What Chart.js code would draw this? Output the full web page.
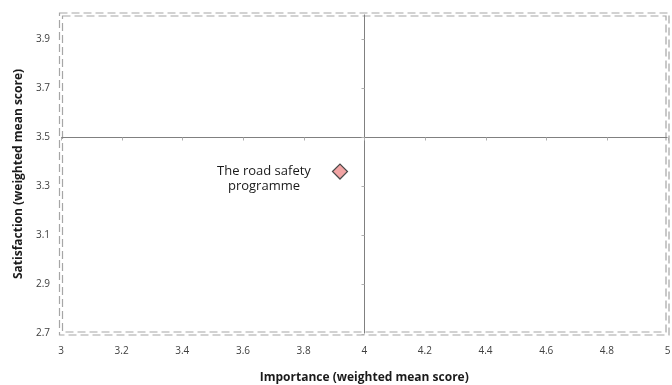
<!DOCTYPE html>
<html>
<head>
<meta charset="utf-8">
<script src="https://cdn.jsdelivr.net/npm/chart.js@4.4.1/dist/chart.umd.min.js"></script>
<style>
  html, body { margin: 0; padding: 0; background: #ffffff; }
  #wrap { width: 672px; height: 385px; position: relative; }
</style>
</head>
<body>
<div id="wrap"><canvas id="chart" width="672" height="385"></canvas></div>
<script>
// Service item plotted by importance (x) against satisfaction (y)
const itemNames = ["The road safety programme"];
const itemLabelLines = [["The road safety", "programme"]];
const importance = [3.92];
const satisfaction = [3.36];

// Axis ranges and tick labels
const xTicks = [3, 3.2, 3.4, 3.6, 3.8, 4, 4.2, 4.4, 4.6, 4.8, 5];
const yTicks = [2.7, 2.9, 3.1, 3.3, 3.5, 3.7, 3.9];
const xRange = [3, 5];
const yRange = [2.7, 4.0];

// Quadrant dividers
const xDivider = 4;
const yDivider = 3.5;

const FONT = "'Open Sans', 'DejaVu Sans', sans-serif";

// Double dashed frame around the plot area
const framePlugin = {
  id: 'frame',
  beforeDatasetsDraw(chart) {
    const { ctx, chartArea: a } = chart;
    ctx.save();
    ctx.strokeStyle = '#a6a6a6';
    ctx.lineWidth = 1.2;
    ctx.setLineDash([8, 4]);
    [-1.5, 1.5].forEach(off => {
      ctx.strokeRect(a.left - off, a.top - off, (a.right - a.left) + 2 * off, (a.bottom - a.top) + 2 * off);
    });
    ctx.restore();
  }
};

// Quadrant lines with small tick marks
const quadrantPlugin = {
  id: 'quadrants',
  beforeDatasetsDraw(chart) {
    const { ctx, chartArea: a, scales: { x, y } } = chart;
    const vx = Math.round(x.getPixelForValue(xDivider)) + 0.5;
    const hy = Math.round(y.getPixelForValue(yDivider)) + 0.5;
    ctx.save();
    ctx.strokeStyle = '#808080';
    ctx.lineWidth = 1;
    ctx.beginPath();
    ctx.moveTo(vx, a.top);
    ctx.lineTo(vx, a.bottom);
    ctx.moveTo(a.left, hy);
    ctx.lineTo(a.right, hy);
    ctx.stroke();
    ctx.strokeStyle = '#b0b0b0';
    ctx.beginPath();
    yTicks.forEach(v => {
      const py = Math.round(y.getPixelForValue(v)) + 0.5;
      ctx.moveTo(vx - 3, py);
      ctx.lineTo(vx, py);
    });
    xTicks.forEach(v => {
      const px = Math.round(x.getPixelForValue(v)) + 0.5;
      ctx.moveTo(px, hy);
      ctx.lineTo(px, hy + 3);
    });
    ctx.stroke();
    ctx.restore();
  }
};

// Text label to the left of each point
const labelPlugin = {
  id: 'pointLabels',
  afterDatasetsDraw(chart) {
    const { ctx, scales: { x, y } } = chart;
    ctx.save();
    ctx.font = "13px " + FONT;
    ctx.fillStyle = '#1a1a1a';
    ctx.textAlign = 'center';
    ctx.textBaseline = 'middle';
    importance.forEach((iv, i) => {
      const px = x.getPixelForValue(iv);
      const py = y.getPixelForValue(satisfaction[i]);
      itemLabelLines[i].forEach((line, k) => {
        ctx.fillText(line, px - 76, py + k * 15);
      });
    });
    ctx.restore();
  }
};

// Invisible tick marks keep labels clear of the frame without padding the chart area
const hiddenTickGrid = (len) => ({
  display: true,
  drawOnChartArea: false,
  drawTicks: true,
  tickLength: len,
  color: 'rgba(0,0,0,0)'
});

new Chart(document.getElementById('chart'), {
  type: 'scatter',
  data: {
    datasets: [{
      label: itemNames[0],
      data: importance.map((v, i) => ({ x: v, y: satisfaction[i] })),
      pointStyle: 'rectRot',
      pointRadius: 7.5,
      pointHoverRadius: 7.5,
      backgroundColor: '#f2a4a4',
      borderColor: '#4a4a4a',
      borderWidth: 1.2
    }]
  },
  options: {
    responsive: false,
    animation: false,
    devicePixelRatio: 1,
    layout: { autoPadding: false, padding: { top: 14.5, right: 4.5, bottom: 0, left: 0 } },
    plugins: {
      legend: { display: false },
      tooltip: { enabled: false }
    },
    scales: {
      x: {
        type: 'linear',
        min: xRange[0],
        max: xRange[1],
        afterBuildTicks: s => { s.ticks = xTicks.map(v => ({ value: v })); },
        afterFit: s => { s.height = 51.5; s.paddingLeft = 0; s.paddingRight = 0; },
        grid: hiddenTickGrid(12),
        border: { display: false },
        ticks: {
          padding: 0,
          color: '#404040',
          font: { family: FONT, size: 10 },
          maxRotation: 0,
          autoSkip: false,
          callback: v => String(v)
        },
        title: {
          display: true,
          text: 'Importance (weighted mean score)',
          color: '#1a1a1a',
          font: { family: FONT, size: 12, weight: 'bold' },
          padding: { top: 0, bottom: 0 }
        }
      },
      y: {
        type: 'linear',
        min: yRange[0],
        max: yRange[1],
        afterBuildTicks: s => { s.ticks = yTicks.map(v => ({ value: v })); },
        afterFit: s => { s.width = 61; s.paddingTop = 0; s.paddingBottom = 0; },
        grid: hiddenTickGrid(11),
        border: { display: false },
        ticks: {
          padding: 0,
          color: '#404040',
          font: { family: FONT, size: 10 },
          autoSkip: false,
          callback: v => String(v)
        },
        title: {
          display: true,
          text: 'Satisfaction (weighted mean score)',
          color: '#1a1a1a',
          font: { family: FONT, size: 12, weight: 'bold' },
          padding: { top: 11, bottom: 0 }
        }
      }
    }
  },
  plugins: [framePlugin, quadrantPlugin, labelPlugin]
});
</script>
</body>
</html>
